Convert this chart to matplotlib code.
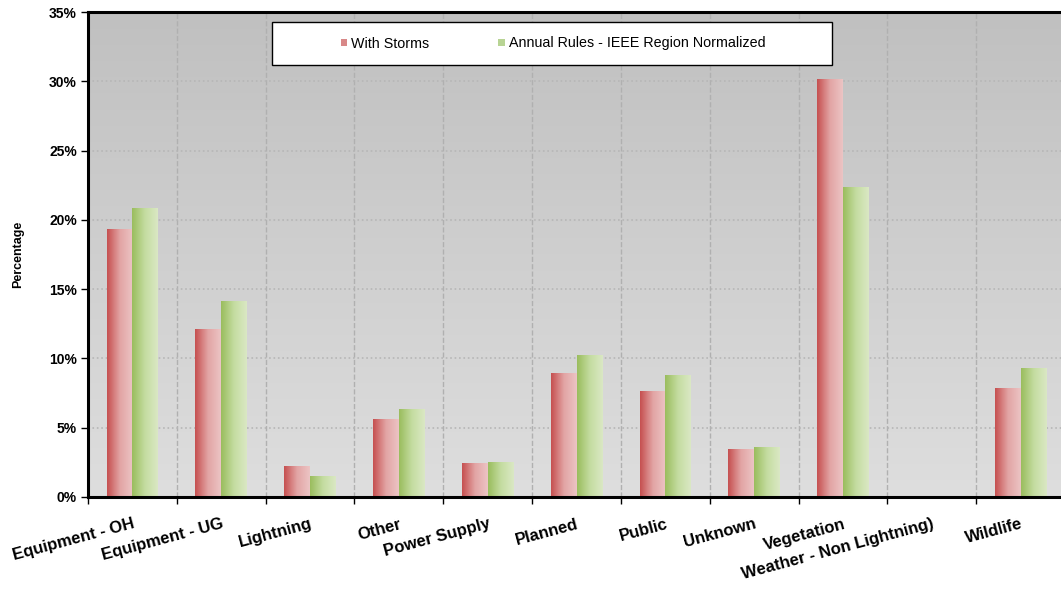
import numpy as np
import matplotlib
matplotlib.use("Agg")
import matplotlib.pyplot as plt
from matplotlib.colors import LinearSegmentedColormap
from matplotlib.patches import Patch, Rectangle
from matplotlib.ticker import FuncFormatter, FixedLocator

plt.rcParams['font.family'] = ['Liberation Sans', 'DejaVu Sans']

# data (percent)
categories = ['Equipment - OH', 'Equipment - UG', 'Lightning', 'Other', 'Power Supply',
              'Planned', 'Public', 'Unknown', 'Vegetation', 'Weather - Non Lightning)', 'Wildlife']
with_storms = [19.3, 12.1, 2.2, 5.6, 2.4, 8.9, 7.6, 3.4, 30.1, 0.0, 7.8]
annual_ieee = [20.8, 14.1, 1.5, 6.3, 2.5, 10.2, 8.8, 3.6, 22.3, 0.0, 9.3]
series_names = ['With Storms', 'Annual Rules - IEEE Region Normalized']
yticks = [0, 5, 10, 15, 20, 25, 30, 35]

red_cm = LinearSegmentedColormap.from_list('red', ['#c65050', '#e2a4a4', '#ecc4c4'])
green_cm = LinearSegmentedColormap.from_list('green', ['#9abd5e', '#c4dca0', '#dae8c4'])
bg_cm = LinearSegmentedColormap.from_list('bg', ['#c0c0c0', '#dedede'])

W, H = 1061, 589
fig = plt.figure(figsize=(W / 100, H / 100), dpi=100)
ax = fig.add_axes([88 / W, (H - 497) / H, 977 / W, 485 / H])
ax.patch.set_visible(False)

# background gradient
ax.imshow(np.linspace(0, 1, 256).reshape(-1, 1), cmap=bg_cm, extent=(0, 1, 0, 1),
          transform=ax.transAxes, aspect='auto', zorder=0.1)

x = np.arange(len(categories))
w = 0.29
b1 = ax.bar(x - w / 2, with_storms, w, color='none', zorder=2)
b2 = ax.bar(x + w / 2, annual_ieee, w, color='none', zorder=2)

grad = np.linspace(0, 1, 64).reshape(1, -1)
for bars, cm in [(b1, red_cm), (b2, green_cm)]:
    for bar in bars:
        h = bar.get_height()
        if h > 0:
            x0 = bar.get_x()
            ax.imshow(grad, cmap=cm, extent=(x0, x0 + bar.get_width(), 0, h),
                      aspect='auto', zorder=2)

ax.set_xlim(-0.5, len(categories) - 0.5)
ax.set_ylim(0, 35)

# ticks
ax.set_yticks(yticks)
ax.yaxis.set_major_formatter(FuncFormatter(lambda v, p: f'{v:.0f}%'))
ax.xaxis.set_major_locator(FixedLocator(np.arange(len(categories) + 1) - 0.5))
ax.xaxis.set_major_formatter(FuncFormatter(lambda v, p: ''))
ax.set_xticks(x, minor=True)
ax.set_xticklabels(categories, minor=True, rotation=15, ha='right', va='top',
                   rotation_mode='anchor', fontsize=12, fontweight='bold')
ax.tick_params(axis='x', which='minor', length=0, pad=14)
ax.tick_params(axis='x', which='major', length=5, width=1, direction='out')
ax.tick_params(axis='y', length=5, width=1, direction='out', labelsize=10, pad=3)
for lab in ax.get_yticklabels():
    lab.set_fontweight('bold')

ax.set_axisbelow(True)
ax.grid(axis='y', color='#b6b6b6', linestyle=':', linewidth=1.2)
ax.grid(axis='x', which='major', color='#b0b0b0', linestyle='--', linewidth=1)

for s in ['left', 'bottom', 'top']:
    ax.spines[s].set_linewidth(2.2)
ax.spines['right'].set_visible(False)

ax.set_ylabel('Percentage', fontsize=9, fontweight='bold')
ax.yaxis.set_label_coords(-(88 - 24) / 977, 0.5)

# legend box
fig.patches.append(Rectangle((272 / W, (H - 65) / H), 560 / W, 43 / H,
                             transform=fig.transFigure, facecolor='white',
                             edgecolor='black', linewidth=1, zorder=5))
handles = [Patch(facecolor='#d88888', edgecolor='none'),
           Patch(facecolor='#b8d494', edgecolor='none')]
fig.legend(handles, series_names, loc='center', bbox_to_anchor=(553 / W, (H - 43.5) / H),
           ncol=2, frameon=False, fontsize=10.3, handlelength=0.45, handleheight=0.45,
           handletextpad=0.3, columnspacing=4.8)

fig.savefig('out.png', dpi=100)
